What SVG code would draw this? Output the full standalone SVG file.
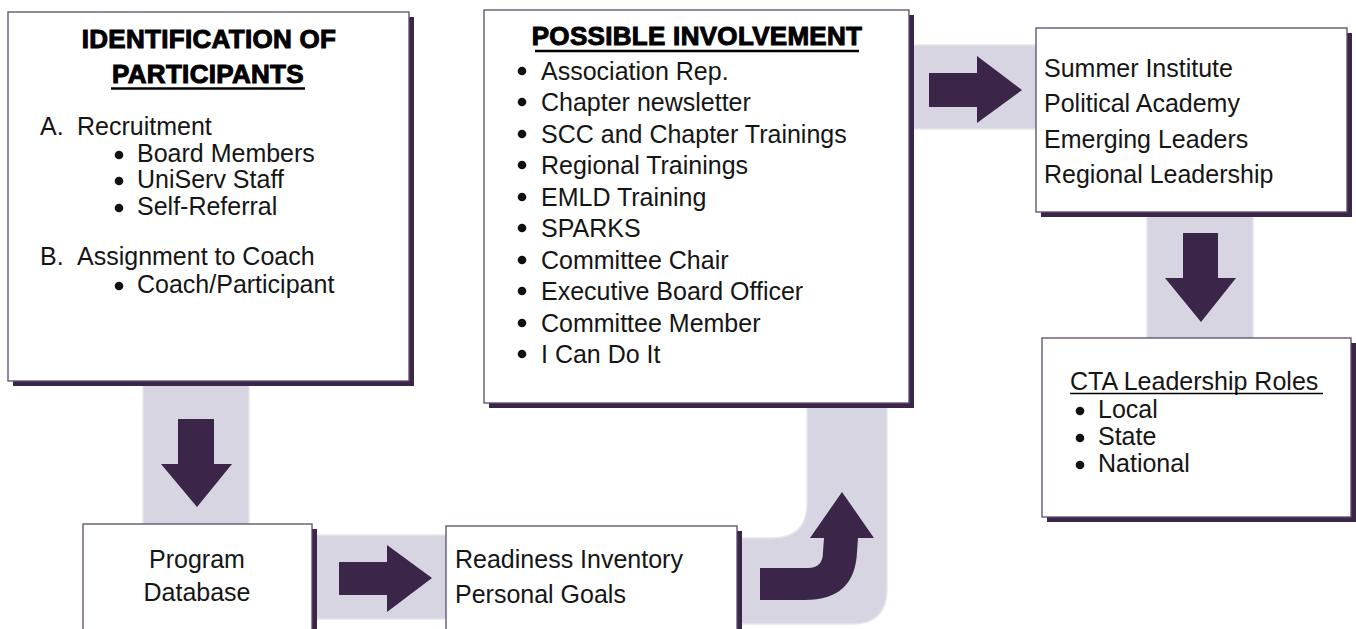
<svg xmlns="http://www.w3.org/2000/svg" width="1356" height="629" viewBox="0 0 1356 629">
<style>
.band{fill:#d6d5e1;stroke:#e6e6ec;stroke-width:1.5}
.arrow{fill:#3b2549}
.shadow{fill:#3b2549}
.box{fill:#fff;stroke:#5a4a6c;stroke-width:1.3}
.t{font-family:"Liberation Sans",Arial,sans-serif;font-size:25px;fill:#151515}
.h{font-family:"Liberation Sans",Arial,sans-serif;font-size:26px;font-weight:bold;fill:#000;stroke:#000;stroke-width:1;letter-spacing:0.3px;text-anchor:middle}
.c{text-anchor:middle}
.dot{fill:#111}
.ul{stroke:#000}
</style>
<rect width="1356" height="629" fill="#fff"/>
<g id="connectors">
  <rect class="band" x="143" y="381" width="106" height="145"/>
  <rect class="band" x="312" y="535" width="136" height="84"/>
  <path class="band" d="M737,538 L772,538 Q807,538 807,503 L807,400 L887,400 L887,589 Q887,624 852,624 L737,624 Z"/>
  <rect class="band" x="909" y="45" width="130" height="84"/>
  <rect class="band" x="1147" y="212" width="106" height="128"/>
  <path class="arrow" d="M178,419 L214,419 L214,464 L232,464 L197,507 L161,464 L178,464 Z"/>
  <path class="arrow" d="M339,562 L387,562 L387,545 L432,578 L387,612 L387,595 L339,595 Z"/>
  <path class="arrow" d="M760,568 L808,568 Q823,568 823,552 L824,538 L810,538 L842,492 L874,538 L858,538 L857,552 Q855,600 805,600 L760,600 Z"/>
  <path class="arrow" d="M929,73 L977,73 L977,56 L1022,90 L977,123 L977,107 L929,107 Z"/>
  <path class="arrow" d="M1183,233 L1218,233 L1218,278 L1236,278 L1201,322 L1165,278 L1183,278 Z"/>
</g>
<g id="identification">
  <rect class="shadow" x="13" y="17" width="401" height="369"/>
  <rect class="box" x="8" y="12" width="401" height="369"/>
  <text class="h" x="209" y="48">IDENTIFICATION OF</text>
  <text class="h" x="208" y="83">PARTICIPANTS</text>
  <line class="ul" x1="111" y1="88.5" x2="305" y2="88.5" stroke-width="2.5"/>
  <text class="t" x="40" y="135">A.</text>
  <text class="t" x="77" y="135">Recruitment</text>
  <circle class="dot" cx="119" cy="155" r="4.3"/>
  <text class="t" x="137" y="162">Board Members</text>
  <circle class="dot" cx="119" cy="181" r="4.3"/>
  <text class="t" x="137" y="188">UniServ Staff</text>
  <circle class="dot" cx="119" cy="208" r="4.3"/>
  <text class="t" x="137" y="215">Self-Referral</text>
  <text class="t" x="40" y="265">B.</text>
  <text class="t" x="77" y="265">Assignment to Coach</text>
  <circle class="dot" cx="119" cy="286" r="4.3"/>
  <text class="t" x="137" y="293">Coach/Participant</text>
</g>
<g id="involvement">
  <rect class="shadow" x="489" y="15" width="425" height="393"/>
  <rect class="box" x="484" y="10" width="425" height="393"/>
  <text class="h" x="697" y="45">POSSIBLE INVOLVEMENT</text>
  <line class="ul" x1="535" y1="51" x2="859" y2="51" stroke-width="2.5"/>
  <circle class="dot" cx="522" cy="71" r="4.3"/>
  <text class="t" x="541" y="80">Association Rep.</text>
  <circle class="dot" cx="522" cy="102" r="4.3"/>
  <text class="t" x="541" y="111">Chapter newsletter</text>
  <circle class="dot" cx="522" cy="134" r="4.3"/>
  <text class="t" x="541" y="143">SCC and Chapter Trainings</text>
  <circle class="dot" cx="522" cy="165" r="4.3"/>
  <text class="t" x="541" y="174">Regional Trainings</text>
  <circle class="dot" cx="522" cy="197" r="4.3"/>
  <text class="t" x="541" y="206">EMLD Training</text>
  <circle class="dot" cx="522" cy="228" r="4.3"/>
  <text class="t" x="541" y="237">SPARKS</text>
  <circle class="dot" cx="522" cy="260" r="4.3"/>
  <text class="t" x="541" y="269">Committee Chair</text>
  <circle class="dot" cx="522" cy="291" r="4.3"/>
  <text class="t" x="541" y="300">Executive Board Officer</text>
  <circle class="dot" cx="522" cy="323" r="4.3"/>
  <text class="t" x="541" y="332">Committee Member</text>
  <circle class="dot" cx="522" cy="354" r="4.3"/>
  <text class="t" x="541" y="363">I Can Do It</text>
</g>
<g id="programs">
  <rect class="shadow" x="1041" y="33" width="311" height="184"/>
  <rect class="box" x="1036" y="28" width="311" height="184"/>
  <text class="t" x="1044" y="77">Summer Institute</text>
  <text class="t" x="1044" y="112">Political Academy</text>
  <text class="t" x="1044" y="148">Emerging Leaders</text>
  <text class="t" x="1044" y="183">Regional Leadership</text>
</g>
<g id="cta">
  <rect class="shadow" x="1047" y="343" width="309" height="179"/>
  <rect class="box" x="1042" y="338" width="309" height="179"/>
  <text class="t" x="1070" y="390">CTA Leadership Roles</text>
  <line class="ul" x1="1070" y1="393.5" x2="1323" y2="393.5" stroke-width="1.5"/>
  <circle class="dot" cx="1080" cy="411" r="4.3"/>
  <text class="t" x="1098" y="418">Local</text>
  <circle class="dot" cx="1080" cy="438" r="4.3"/>
  <text class="t" x="1098" y="445">State</text>
  <circle class="dot" cx="1080" cy="465" r="4.3"/>
  <text class="t" x="1098" y="472">National</text>
</g>
<g id="database">
  <rect class="shadow" x="88" y="529" width="229" height="120"/>
  <rect class="box" x="83" y="524" width="229" height="120"/>
  <text class="t c" x="197" y="568">Program</text>
  <text class="t c" x="197" y="601">Database</text>
</g>
<g id="readiness">
  <rect class="shadow" x="451" y="531" width="291" height="120"/>
  <rect class="box" x="446" y="526" width="291" height="120"/>
  <text class="t" x="455" y="568">Readiness Inventory</text>
  <text class="t" x="455" y="603">Personal Goals</text>
</g>
</svg>
